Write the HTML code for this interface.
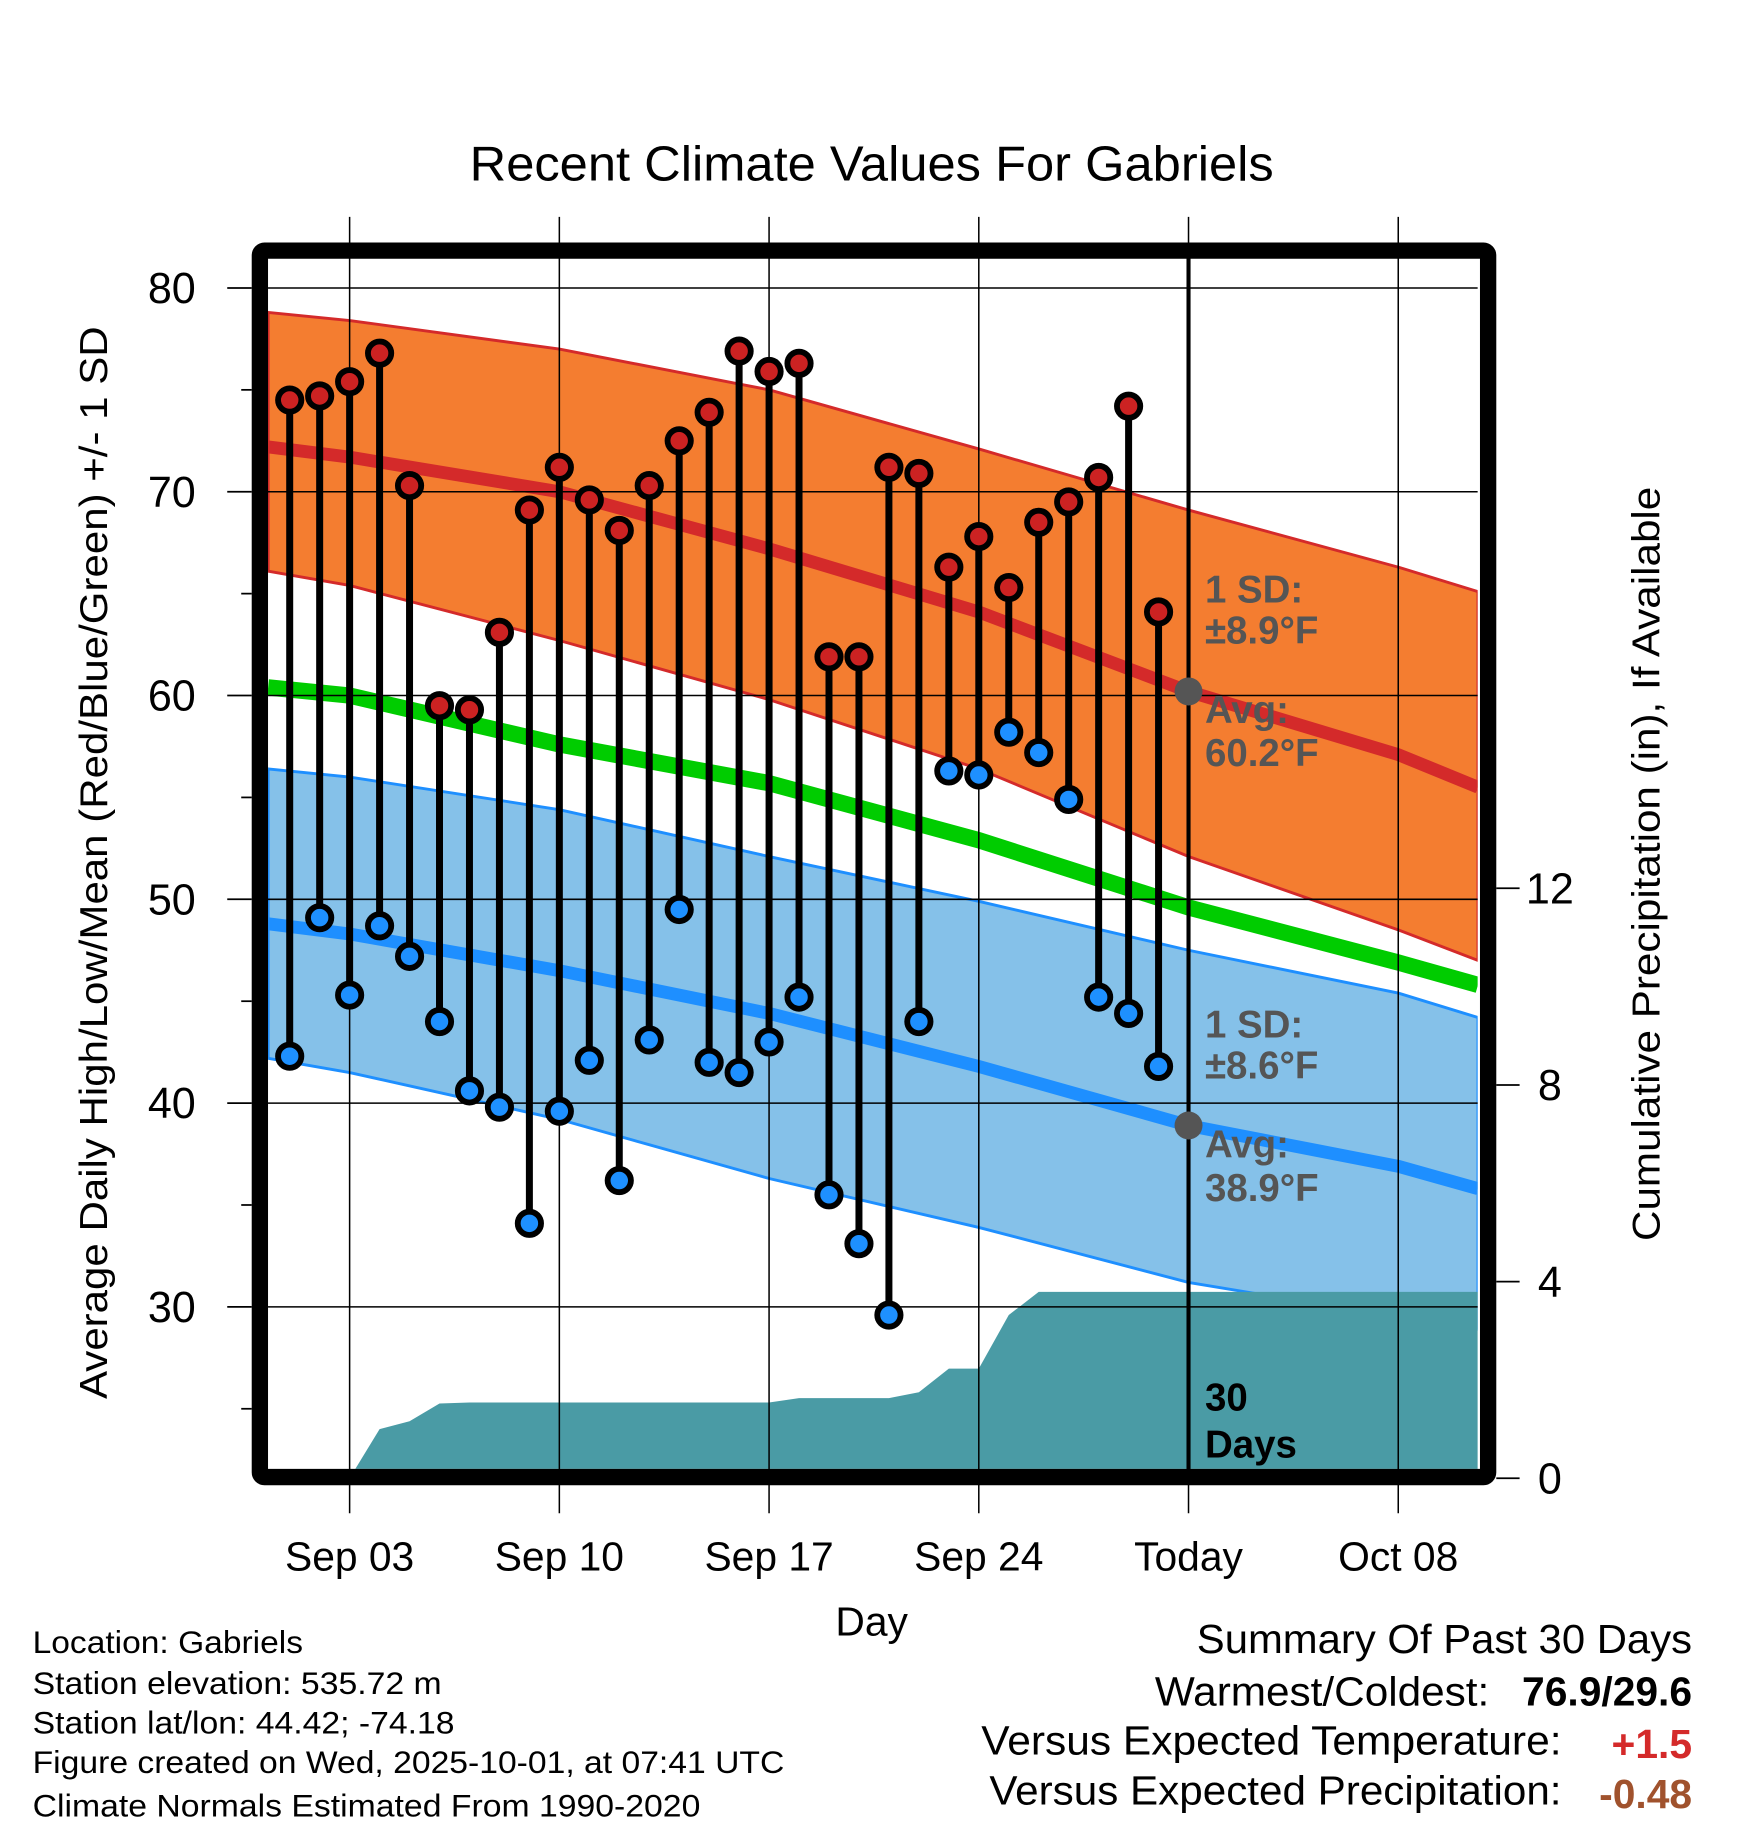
<!DOCTYPE html>
<html><head><meta charset="utf-8"><style>
html,body{margin:0;padding:0;background:#fff}
svg{display:block;font-family:"Liberation Sans",Arial,sans-serif}
</style></head><body>
<svg id="chart" width="1748" height="1828" viewBox="0 0 1500 1568" preserveAspectRatio="none" xmlns="http://www.w3.org/2000/svg">
<defs><clipPath id="plotclip"><rect x="230" y="222" width="1038" height="1038"/></clipPath></defs>
<text x="748" y="155" font-size="42" text-anchor="middle" textLength="690" lengthAdjust="spacingAndGlyphs">Recent Climate Values For Gabriels</text>
<g id="fills" clip-path="url(#plotclip)"></g>
<g id="grid"></g>
<g id="marks"></g>
<rect x="223" y="215" width="1054" height="1052" fill="none" stroke="#000" stroke-width="14" rx="4"/>
<g id="axes"></g>
<text transform="translate(92,740) rotate(-90)" font-size="33" text-anchor="middle" textLength="920" lengthAdjust="spacingAndGlyphs">Average Daily High/Low/Mean (Red/Blue/Green) +/- 1 SD</text>
<text transform="translate(1424,741) rotate(-90)" font-size="33" text-anchor="middle" textLength="647" lengthAdjust="spacingAndGlyphs">Cumulative Precipitation (in), If Available</text>
<text x="748" y="1403" font-size="35" text-anchor="middle">Day</text>
<g font-size="27">
<text x="28" y="1418" textLength="232" lengthAdjust="spacingAndGlyphs">Location: Gabriels</text>
<text x="28" y="1453" textLength="351" lengthAdjust="spacingAndGlyphs">Station elevation: 535.72 m</text>
<text x="28" y="1487" textLength="362" lengthAdjust="spacingAndGlyphs">Station lat/lon: 44.42; -74.18</text>
<text x="28" y="1521" textLength="645" lengthAdjust="spacingAndGlyphs">Figure created on Wed, 2025-10-01, at 07:41 UTC</text>
<text x="28" y="1558" textLength="573" lengthAdjust="spacingAndGlyphs">Climate Normals Estimated From 1990-2020</text>
</g>
<g font-size="35">
<text x="1027" y="1418" textLength="425" lengthAdjust="spacingAndGlyphs">Summary Of Past 30 Days</text>
<text x="991" y="1463" textLength="287" lengthAdjust="spacingAndGlyphs">Warmest/Coldest:</text>
<text x="1452" y="1463" font-weight="bold" text-anchor="end">76.9/29.6</text>
<text x="842" y="1505" textLength="498" lengthAdjust="spacingAndGlyphs">Versus Expected Temperature:</text>
<text x="1452" y="1508" font-weight="bold" fill="#d42a2a" text-anchor="end">+1.5</text>
<text x="849" y="1548" textLength="491" lengthAdjust="spacingAndGlyphs">Versus Expected Precipitation:</text>
<text x="1452" y="1551" font-weight="bold" fill="#a0522d" text-anchor="end">-0.48</text>
</g>
</svg>
<script>
const days=[1,2,3,4,5,6,7,8,9,10,11,12,13,14,15,16,17,18,19,20,21,22,23,24,25,26,27,28,29,30];
const highs=[74.5,74.7,75.4,76.8,70.3,59.5,59.3,63.1,69.1,71.2,69.6,68.1,70.3,72.5,73.9,76.9,75.9,76.3,61.9,61.9,71.2,70.9,66.3,67.8,65.3,68.5,69.5,70.7,74.2,64.1];
const lows=[42.3,49.1,45.3,48.7,47.2,44.0,40.6,39.8,34.1,39.6,42.1,36.2,43.1,49.5,42.0,41.5,43.0,45.2,35.5,33.1,29.6,44.0,56.3,56.1,58.2,57.2,54.9,45.2,44.4,41.8];
const precip=[0,0,0,1.0,1.16,1.52,1.54,1.54,1.54,1.54,1.54,1.54,1.54,1.54,1.54,1.54,1.54,1.63,1.63,1.63,1.63,1.75,2.23,2.23,3.32,3.79,3.79,3.79,3.79,3.79];
const normDays=[0.28,3,10,17,24,31,38,40.66];
const highTop=[78.8,78.4,77.0,75.0,72.1,69.1,66.3,65.1];
const highMean=[72.2,71.7,70.0,67.2,64.1,60.2,57.1,55.5];
const highBot=[66.1,65.4,62.7,59.8,56.4,52.1,48.5,47.0];
const meanT=[60.4,60.0,57.6,55.7,52.9,49.6,46.9,45.8];
const lowTop=[56.4,56.0,54.4,52.1,49.9,47.5,45.4,44.2];
const lowMean=[48.8,48.3,46.5,44.4,41.8,38.9,36.9,35.8];
const lowBot=[42.2,41.5,39.2,36.3,33.9,31.2,29.5,28.9];
const yTicks=[80,70,60,50,40,30];
const y2Ticks=[0,4,8,12];
const xTickDays=[3,10,17,24,31,38];
const xTickLabels=["Sep 03","Sep 10","Sep 17","Sep 24","Today","Oct 08"];
const todayDay=31, precipEndDay=40.66;

const NS="http://www.w3.org/2000/svg";
const X=d=>248.6+(d-1)*25.71;
const Y=t=>247+(80-t)*17.48;
const Y2=p=>1268-p*42.17;
function mk(tag,attrs,parent){const e=document.createElementNS(NS,tag);for(const k in attrs)e.setAttribute(k,attrs[k]);parent.appendChild(e);return e;}
const fills=document.getElementById('fills'),grid=document.getElementById('grid'),marks=document.getElementById('marks'),axes=document.getElementById('axes');
function line(arr){return normDays.map((d,i)=>X(d)+','+Y(arr[i])).join(' ');}
function band(top,bot){return normDays.map((d,i)=>X(d)+','+Y(top[i])).concat(normDays.slice().reverse().map((d,j)=>{const i=normDays.length-1-j;return X(d)+','+Y(bot[i]);})).join(' ');}
let e;
e=mk('polygon',{points:band(highTop,highBot),fill:'#f47d30',stroke:'#d42a2a','stroke-width':2.5},fills);

e=mk('polygon',{points:band(lowTop,lowBot),fill:'#85c1e9',stroke:'#1e8fff','stroke-width':2.5},fills);

e=mk('polyline',{points:line(meanT),fill:'none',stroke:'#00cc00','stroke-width':14},fills);

e=mk('polyline',{points:line(highMean),fill:'none',stroke:'#d42a2a','stroke-width':11},fills);

e=mk('polyline',{points:line(lowMean),fill:'none',stroke:'#1e8fff','stroke-width':11},fills);

let pts=[X(days[0])+','+Y2(0)];
days.forEach((d,i)=>pts.push(X(d)+','+Y2(precip[i])));
pts.push(X(precipEndDay)+','+Y2(precip[precip.length-1]));
pts.push(X(precipEndDay)+','+Y2(0));
e=mk('polygon',{points:pts.join(' '),fill:'#4a9ba5'},fills);

xTickDays.forEach((d,i)=>{
 e=mk('line',{x1:X(d),x2:X(d),y1:186,y2:1298,stroke:'#000','stroke-width':1.3},grid);
 
 e=mk('text',{x:X(d),y:1347,'font-size':35,'text-anchor':'middle'},axes);e.textContent=xTickLabels[i];
 
});
yTicks.forEach(t=>{
 e=mk('line',{x1:230,x2:1268,y1:Y(t),y2:Y(t),stroke:'#000','stroke-width':1.3},grid);
 
 e=mk('line',{x1:195,x2:216,y1:Y(t),y2:Y(t),stroke:'#000','stroke-width':1.5},axes);
 
 e=mk('text',{x:168,y:Y(t)+13,'font-size':37,'text-anchor':'end'},axes);e.textContent=t;
 
});
for(let t=25;t<=75;t+=10){
 e=mk('line',{x1:207,x2:216,y1:Y(t),y2:Y(t),stroke:'#000','stroke-width':1.5},axes);
 
}
y2Ticks.forEach(p=>{
 e=mk('line',{x1:1284,x2:1304,y1:Y2(p),y2:Y2(p),stroke:'#000','stroke-width':1.5},axes);
 
 e=mk('text',{x:1330,y:Y2(p)+13,'font-size':37,'text-anchor':'middle'},axes);e.textContent=p;
 
});
e=mk('line',{x1:X(todayDay),x2:X(todayDay),y1:215,y2:1262,stroke:'#000','stroke-width':3.5},marks);

days.forEach((d,i)=>{
 e=mk('line',{x1:X(d),x2:X(d),y1:Y(highs[i]),y2:Y(lows[i]),stroke:'#000','stroke-width':6},marks);
 
});
days.forEach((d,i)=>{
 e=mk('circle',{cx:X(d),cy:Y(highs[i]),r:10,fill:'#cc2222',stroke:'#000','stroke-width':5},marks);
 
 e=mk('circle',{cx:X(d),cy:Y(lows[i]),r:10,fill:'#1e90ff',stroke:'#000','stroke-width':5},marks);
 
});
const tIdx=normDays.indexOf(todayDay);
e=mk('circle',{cx:X(todayDay),cy:Y(highMean[tIdx]),r:12,fill:'#555'},marks);

e=mk('circle',{cx:X(todayDay),cy:Y(lowMean[tIdx]),r:12,fill:'#555'},marks);

const ann=[["1 SD:",517,'#555'],["±8.9°F",552,'#555'],["Avg:",620,'#555'],["60.2°F",657,'#555'],["1 SD:",890,'#555'],["±8.6°F",925,'#555'],["Avg:",993,'#555'],["38.9°F",1030,'#555'],["30",1210,'#000'],["Days",1250,'#000']];
ann.forEach(a=>{
 e=mk('text',{x:1034,y:a[1],'font-size':33,'font-weight':'bold',fill:a[2]},marks);
 e.textContent=a[0];
 
});
</script>
</body></html>
